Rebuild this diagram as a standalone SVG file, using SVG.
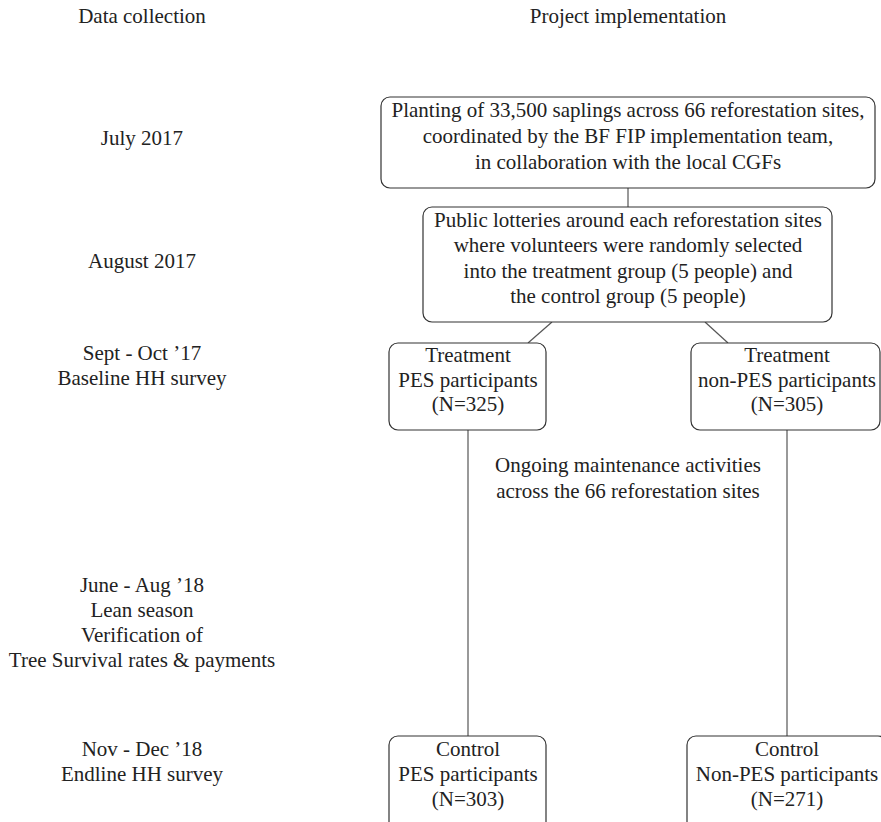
<svg xmlns="http://www.w3.org/2000/svg" width="881" height="822" viewBox="0 0 881 822">
<style>
text{font-family:"Liberation Serif","Times New Roman",serif;font-size:21px;fill:#222;text-anchor:middle}
.box{fill:#fff;stroke:#333;stroke-width:1.2}
.con{stroke:#555;stroke-width:1.2;fill:none}
</style>
<rect width="881" height="822" fill="#fff"/>
<g id="labels">
<text x="142" y="23">Data collection</text>
<text x="628" y="23">Project implementation</text>
<text x="142" y="145">July 2017</text>
<text x="142" y="268">August 2017</text>
<text x="142" y="360">Sept - Oct ’17</text>
<text x="142" y="385">Baseline HH survey</text>
<text x="142" y="592">June - Aug ’18</text>
<text x="142" y="617">Lean season</text>
<text x="142" y="642">Verification of</text>
<text x="142" y="667">Tree Survival rates &amp; payments</text>
<text x="142" y="756">Nov - Dec ’18</text>
<text x="142" y="781">Endline HH survey</text>
</g>
<g id="connectors">
<line class="con" x1="628" y1="188" x2="628" y2="207"/>
<line class="con" x1="552" y1="322" x2="528" y2="343"/>
<line class="con" x1="705" y1="322" x2="728" y2="343"/>
<line class="con" x1="468" y1="430" x2="468" y2="736"/>
<line class="con" x1="787" y1="430" x2="787" y2="736"/>
</g>
<g id="planting">
<rect class="box" x="381" y="97" width="494" height="91" rx="9"/>
<text x="628" y="117">Planting of 33,500 saplings across 66 reforestation sites,</text>
<text x="628" y="143">coordinated by the BF FIP implementation team,</text>
<text x="628" y="169">in collaboration with the local CGFs</text>
</g>
<g id="lotteries">
<rect class="box" x="423" y="207" width="409" height="115" rx="9"/>
<text x="628" y="227">Public lotteries around each reforestation sites</text>
<text x="628" y="252">where volunteers were randomly selected</text>
<text x="628" y="278">into the treatment group (5 people) and</text>
<text x="628" y="303">the control group (5 people)</text>
</g>
<g id="treat-pes">
<rect class="box" x="389" y="343" width="157" height="87" rx="9"/>
<text x="468" y="362">Treatment</text>
<text x="468" y="387">PES participants</text>
<text x="468" y="411">(N=325)</text>
</g>
<g id="treat-nonpes">
<rect class="box" x="691" y="343" width="189" height="87" rx="9"/>
<text x="787" y="362">Treatment</text>
<text x="787" y="387">non-PES participants</text>
<text x="787" y="411">(N=305)</text>
</g>
<g id="maintenance">
<text x="628" y="472">Ongoing maintenance activities</text>
<text x="628" y="498">across the 66 reforestation sites</text>
</g>
<g id="control-pes">
<rect class="box" x="389" y="736" width="157" height="96" rx="9"/>
<text x="468" y="756">Control</text>
<text x="468" y="781">PES participants</text>
<text x="468" y="806">(N=303)</text>
</g>
<g id="control-nonpes">
<rect class="box" x="687" y="736" width="200" height="96" rx="9"/>
<text x="787" y="756">Control</text>
<text x="787" y="781">Non-PES participants</text>
<text x="787" y="806">(N=271)</text>
</g>
</svg>
